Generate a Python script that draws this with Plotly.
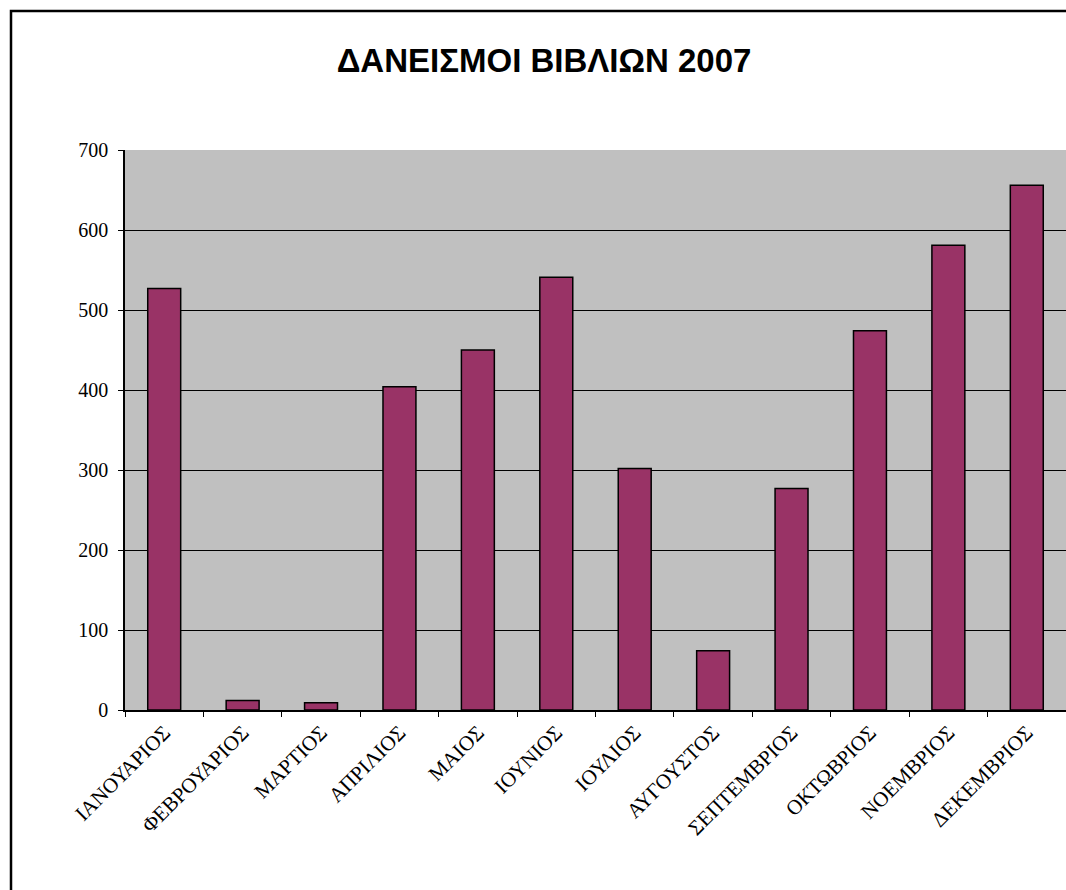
import plotly.graph_objects as go

months = ["ΙΑΝΟΥΑΡΙΟΣ", "ΦΕΒΡΟΥΑΡΙΟΣ", "ΜΑΡΤΙΟΣ", "ΑΠΡΙΛΙΟΣ", "ΜΑΙΟΣ", "ΙΟΥΝΙΟΣ",
          "ΙΟΥΛΙΟΣ", "ΑΥΓΟΥΣΤΟΣ", "ΣΕΠΤΕΜΒΡΙΟΣ", "ΟΚΤΩΒΡΙΟΣ", "ΝΟΕΜΒΡΙΟΣ", "ΔΕΚΕΜΒΡΙΟΣ"]
loans = [527, 12, 9, 404, 450, 541, 302, 74, 277, 474, 581, 656]
y_ticks = [0, 100, 200, 300, 400, 500, 600, 700]
title_text = "ΔΑΝΕΙΣΜΟΙ ΒΙΒΛΙΩΝ 2007"

W, H = 1066, 890
L, T = 125, 150
plot_h = 560
B = H - T - plot_h
plot_w = W - L

fig = go.Figure()
fig.add_trace(go.Bar(
    x=months, y=loans,
    marker=dict(color="#993366", line=dict(color="black", width=1.5)),
    width=0.42,
))

fig.update_layout(
    width=W, height=H,
    margin=dict(l=L, r=0, t=T, b=B),
    paper_bgcolor="white",
    plot_bgcolor="#C0C0C0",
    showlegend=False,
    title=dict(text="<b>" + title_text + "</b>", x=544 / W, xanchor="center",
               y=1 - 60 / H, yanchor="middle",
               font=dict(family="Liberation Sans, Arial", size=33, color="black")),
)

fig.update_yaxes(
    range=[0, 700], tickvals=y_ticks, showgrid=True, gridcolor="black", gridwidth=1,
    showline=True, linecolor="black", linewidth=1.5, ticks="outside", ticklen=5,
    tickcolor="black", ticklabelstandoff=6,
    tickfont=dict(family="Liberation Serif, Times New Roman", size=20, color="black"),
    zeroline=False,
)
fig.update_xaxes(
    showline=True, linecolor="black", linewidth=2, ticks="outside", ticklen=5,
    tickcolor="black", tickson="boundaries", tickangle=-45,
    tickfont=dict(family="Liberation Serif, Times New Roman", size=21, color="black"),
)

# outer chart border (partially cropped on right/bottom)
fig.add_shape(type="rect", xref="paper", yref="paper",
              x0=-(L - 11) / plot_w, x1=1.2, y0=-0.5, y1=1 + (T - 11) / plot_h,
              line=dict(color="black", width=2.5), fillcolor="rgba(0,0,0,0)", layer="below")

fig.write_html(
    "out.html",
    config={"displayModeBar": False},
    post_script="document.body.style.margin='0';document.body.style.overflow='hidden';",
)
